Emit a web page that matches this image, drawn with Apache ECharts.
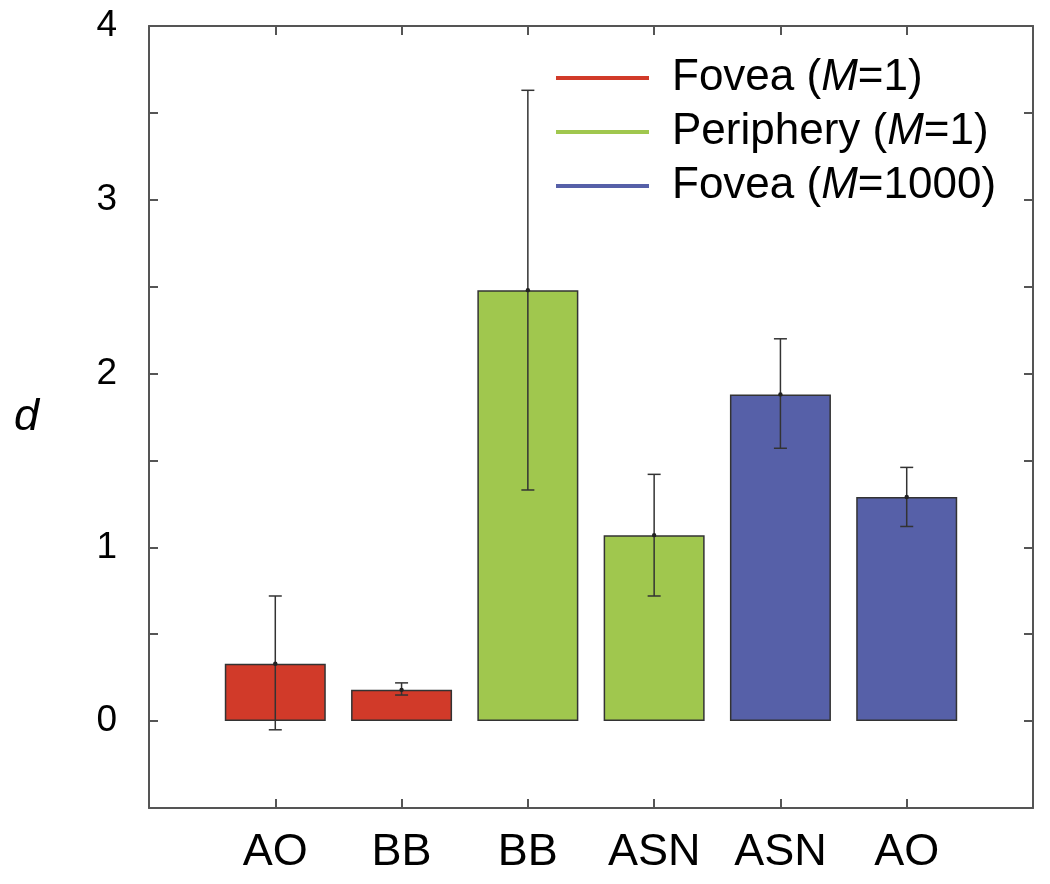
<!DOCTYPE html>
<html>
<head>
<meta charset="utf-8">
<script src="https://cdn.jsdelivr.net/npm/echarts@6/dist/echarts.min.js"></script>
<style>html,body{margin:0;padding:0;background:#fff;}#c{width:1050px;height:884px;}</style>
</head>
<body>
<div id="c"></div>
<script>
// Data
const categories = ['', 'AO', 'BB', 'BB', 'ASN', 'ASN', 'AO', ''];
const seriesNames = ['Fovea (M=1)', 'Periphery (M=1)', 'Fovea (M=1000)'];
const foveaM1 = ['-', 0.33, 0.18, '-', '-', '-', '-', '-'];
const peripheryM1 = ['-', '-', '-', 2.48, 1.07, '-', '-', '-'];
const foveaM1000 = ['-', '-', '-', '-', '-', 1.88, 1.29, '-'];
const means = [null, 0.33, 0.18, 2.48, 1.07, 1.88, 1.29, null];
const errLow = [null, -0.05, 0.15, 1.33, 0.72, 1.57, 1.12, null];
const errHigh = [null, 0.72, 0.22, 3.63, 1.42, 2.20, 1.46, null];
const yTicks = [-0.5, 4];

const colors = ['#D13A29', '#A0C74E', '#5660A8'];
const FONT = 'Liberation Sans, Arial, Helvetica, sans-serif';
const axisColor = '#555';

const errData = [];
for (let i = 0; i < categories.length; i++) {
  if (means[i] !== null) errData.push([i, errLow[i], errHigh[i], means[i]]);
}

const chart = echarts.init(document.getElementById('c'));
const legendRich = {
  n: { fontSize: 44, fontFamily: FONT, color: '#000', lineHeight: 44 },
  i: { fontSize: 44, fontFamily: FONT, color: '#000', fontStyle: 'italic', lineHeight: 44 }
};
function legendFmt(name) {
  const m = name.match(/^(.*\()M(=.*)$/);
  return '{n|' + m[1] + '}{i|M}{n|' + m[2] + '}';
}
const barCommon = {
  type: 'bar', barWidth: 101, barGap: '-100%',
  itemStyle: { borderColor: '#333', borderWidth: 1.5 },
  xAxisIndex: 0, yAxisIndex: 0, animation: false
};
chart.setOption({
  animation: false,
  backgroundColor: '#fff',
  grid: { left: 149, right: 17, top: 26, bottom: 76, containLabel: false },
  legend: {
    left: 551, top: 51, orient: 'vertical', itemGap: 10,
    itemWidth: 93, itemHeight: 4, icon: 'rect',
    data: seriesNames.map((n, k) => ({ name: n, itemStyle: { color: colors[k], borderWidth: 0 } })),
    formatter: legendFmt,
    textStyle: { rich: legendRich, padding: [0, 0, 0, 18] },
    selectedMode: false
  },
  xAxis: [{
    type: 'category', data: categories, boundaryGap: false, position: 'bottom',
    axisLine: { onZero: false, lineStyle: { color: axisColor, width: 2 } },
    axisTick: { inside: true, length: 9, lineStyle: { color: axisColor, width: 2 } },
    axisLabel: { fontSize: 45, fontFamily: FONT, color: '#000', margin: 22, interval: 0 },
    splitLine: { show: false }
  }, {
    type: 'category', data: categories, boundaryGap: false, position: 'top',
    axisLine: { onZero: false, lineStyle: { color: axisColor, width: 2 } },
    axisTick: { inside: true, length: 9, lineStyle: { color: axisColor, width: 2 } },
    axisLabel: { show: false }, splitLine: { show: false }
  }],
  yAxis: [{
    type: 'value', min: yTicks[0], max: yTicks[1], interval: 0.5, position: 'left',
    name: 'd', nameLocation: 'middle', nameRotate: 0, nameGap: 110,
    nameTextStyle: { fontSize: 45, fontStyle: 'italic', fontFamily: FONT, color: '#000' },
    axisLine: { show: true, onZero: false, lineStyle: { color: axisColor, width: 2 } },
    axisTick: { show: true, inside: true, length: 9, lineStyle: { color: axisColor, width: 2 } },
    axisLabel: {
      fontSize: 37, fontFamily: FONT, color: '#000', margin: 32,
      formatter: v => (Number.isInteger(v) && v >= 0) ? String(v) : ''
    },
    splitLine: { show: false }
  }, {
    type: 'value', min: yTicks[0], max: yTicks[1], interval: 0.5, position: 'right',
    axisLine: { show: true, onZero: false, lineStyle: { color: axisColor, width: 2 } },
    axisTick: { show: true, inside: true, length: 9, lineStyle: { color: axisColor, width: 2 } },
    axisLabel: { show: false }, splitLine: { show: false }
  }],
  series: [
    Object.assign({}, barCommon, { name: seriesNames[0], data: foveaM1, itemStyle: Object.assign({}, barCommon.itemStyle, { color: colors[0] }) }),
    Object.assign({}, barCommon, { name: seriesNames[1], data: peripheryM1, itemStyle: Object.assign({}, barCommon.itemStyle, { color: colors[1] }) }),
    Object.assign({}, barCommon, { name: seriesNames[2], data: foveaM1000, itemStyle: Object.assign({}, barCommon.itemStyle, { color: colors[2] }) }),
    {
      type: 'custom', name: 'err', data: errData, z: 10, silent: true,
      xAxisIndex: 0, yAxisIndex: 0,
      renderItem: function (params, api) {
        const x = api.value(0);
        const lo = api.coord([x, api.value(1)]);
        const hi = api.coord([x, api.value(2)]);
        const mid = api.coord([x, api.value(3)]);
        const hw = 6.5;
        const st = { stroke: '#333', lineWidth: 1.5 };
        return {
          type: 'group', children: [
            { type: 'line', shape: { x1: lo[0], y1: lo[1], x2: hi[0], y2: hi[1] }, style: st },
            { type: 'line', shape: { x1: lo[0] - hw, y1: lo[1], x2: lo[0] + hw, y2: lo[1] }, style: st },
            { type: 'line', shape: { x1: hi[0] - hw, y1: hi[1], x2: hi[0] + hw, y2: hi[1] }, style: st },
            { type: 'circle', shape: { cx: mid[0], cy: mid[1], r: 2.2 }, style: { fill: '#222' } }
          ]
        };
      }
    }
  ]
});
</script>
</body>
</html>
